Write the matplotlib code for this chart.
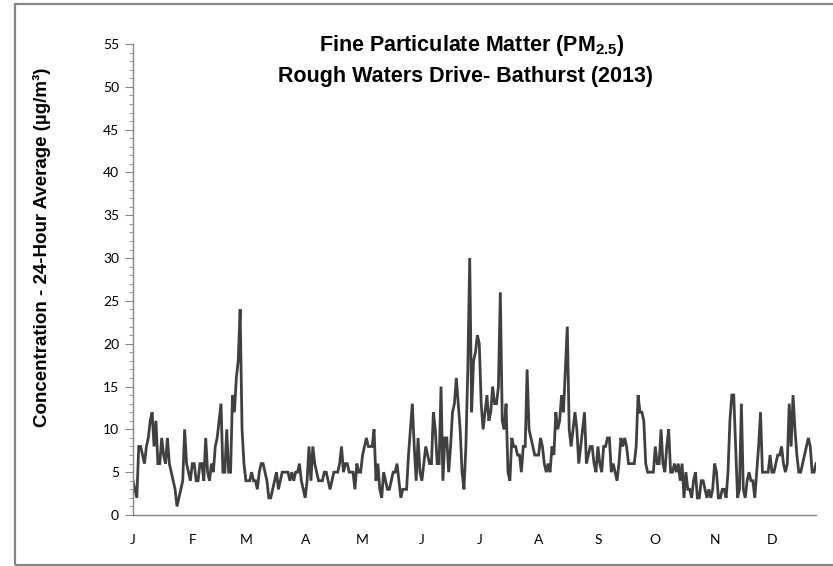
import numpy as np
import matplotlib
matplotlib.use("Agg")
import matplotlib.pyplot as plt
from matplotlib.patches import Rectangle
from matplotlib.ticker import MultipleLocator

plt.rcParams["font.family"] = ["Lato", "DejaVu Sans"]
plt.rcParams["mathtext.fontset"] = "custom"
plt.rcParams["mathtext.rm"] = "Liberation Sans"
plt.rcParams["mathtext.bf"] = "Liberation Sans:bold"

HEAD_FONT = ["Liberation Sans", "DejaVu Sans"]

# daily 24-h average PM2.5 (ug/m3), Rough Waters Drive station, 2013
jan = [4, 3, 2, 8, 8, 7, 6, 8, 9, 11, 12, 8, 11, 6, 6, 9, 7, 6, 9, 6, 5, 4, 3, 1, 2, 3, 4, 10, 6, 5, 4]
feb = [6, 6, 4, 4, 6, 6, 4, 9, 5, 4, 6, 5, 8, 9, 11, 13, 5, 5, 10, 5, 5, 14, 12, 16, 18, 24, 10, 6]
mar = [4, 4, 4, 5, 4, 4, 3, 5, 6, 6, 5, 4, 2, 2, 3, 4, 5, 3, 4, 5, 5, 5, 5, 4, 5, 4, 5, 5, 6, 4, 3]
apr = [2, 4, 8, 4, 8, 6, 5, 4, 4, 4, 5, 5, 4, 3, 4, 5, 5, 5, 6, 8, 5, 6, 6, 5, 5, 5, 3, 6, 5, 5]
may = [7, 8, 9, 8, 8, 8, 10, 4, 6, 3, 2, 5, 4, 3, 3, 4, 5, 5, 6, 4, 2, 3, 3, 3, 7, 10, 13, 8, 4, 9, 5]
jun = [4, 6, 8, 7, 6, 6, 12, 10, 6, 6, 15, 4, 9, 9, 5, 8, 12, 13, 16, 13, 10, 5, 3, 8, 17, 30, 12, 18, 19, 21]
jul = [20, 13, 10, 12, 14, 11, 12, 15, 13, 13, 15, 26, 11, 10, 13, 5, 4, 9, 8, 8, 7, 7, 5, 8, 8, 17, 10, 9, 8, 7, 7]
aug = [7, 9, 8, 6, 5, 6, 5, 8, 7, 12, 10, 11, 14, 12, 17, 22, 10, 8, 10, 12, 10, 6, 8, 10, 12, 6, 7, 8, 8, 6, 5]
sep = [8, 6, 5, 8, 8, 9, 9, 5, 6, 5, 4, 6, 9, 8, 9, 8, 6, 6, 6, 6, 8, 14, 12, 12, 11, 6, 5, 5, 5, 5]
oct_ = [8, 6, 6, 10, 6, 5, 8, 10, 5, 5, 6, 5, 6, 4, 6, 2, 5, 3, 3, 2, 4, 5, 2, 2, 4, 4, 3, 2, 3, 2, 3]
nov = [6, 5, 2, 2, 3, 3, 2, 5, 11, 14, 14, 8, 2, 3, 13, 3, 2, 4, 5, 4, 4, 2, 5, 8, 12, 5, 5, 5, 5, 7]
dec = [5, 5, 6, 7, 7, 8, 6, 5, 6, 13, 8, 14, 10, 7, 5, 5, 6, 7, 8, 9, 8, 5, 5, 6]

months = [jan, feb, mar, apr, may, jun, jul, aug, sep, oct_, nov, dec]
month_labels = ["J", "F", "M", "A", "M", "J", "J", "A", "S", "O", "N", "D"]

conc = np.concatenate(months)
day = np.arange(len(conc))
month_start = np.cumsum([0] + [31, 28, 31, 30, 31, 30, 31, 31, 30, 31, 30])

AXIS_GREY = "#868686"

fig = plt.figure(figsize=(8.33, 5.66), dpi=100)
ax = fig.add_axes([133 / 833, 1 - 515 / 566, (816 - 133) / 833, (515 - 44) / 566])

ax.plot(day, conc, color="#404040", lw=2.0, solid_joinstyle="miter")

ax.set_xlim(0, len(conc) - 1)
ax.set_ylim(0, 55)
ax.yaxis.set_major_locator(MultipleLocator(5))
ax.yaxis.set_minor_locator(MultipleLocator(1))
ax.set_xticks(month_start)
ax.set_xticklabels(month_labels)

for s in ["top", "right"]:
    ax.spines[s].set_visible(False)
for s in ["left", "bottom"]:
    ax.spines[s].set_color(AXIS_GREY)
    ax.spines[s].set_linewidth(1.0)

ax.tick_params(axis="y", which="major", length=6, color=AXIS_GREY, labelsize=10, pad=4)
ax.tick_params(axis="y", which="minor", length=3, color=AXIS_GREY)
ax.tick_params(axis="x", length=0, labelsize=10, pad=14)

fig.text(42 / 833, 1 - 247 / 566, "Concentration - 24-Hour Average (µg/m³)",
         rotation=90, ha="center", va="center", fontsize=13.5, fontweight="bold",
         family=HEAD_FONT)

fig.text(472 / 833, 1 - 45 / 566, r"Fine Particulate Matter (PM$_{\mathbf{2.5}}$)",
         ha="center", va="center", fontsize=15.5, fontweight="bold", family=HEAD_FONT)
fig.text(466 / 833, 1 - 76 / 566, "Rough Waters Drive- Bathurst (2013)",
         ha="center", va="center", fontsize=15.5, fontweight="bold", family=HEAD_FONT)

# chart frame
fig.patches.append(Rectangle((15 / 833, 1 / 566), 1.0, 1 - 5 / 566,
                             transform=fig.transFigure, fill=False,
                             edgecolor=AXIS_GREY, lw=1.6))

fig.savefig("out.png", dpi=100)
